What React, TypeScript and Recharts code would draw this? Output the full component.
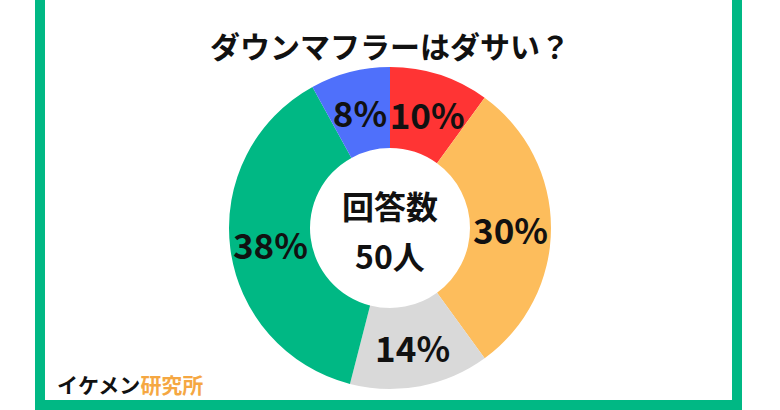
import React from 'react';
import { PieChart, Pie, Cell } from 'recharts';

const answers = ['ダサい', 'ややダサい', 'どちらでもない', 'あまりダサくない', 'ダサくない'];
const shares = [10, 30, 14, 38, 8];
const colors = ['#FF3434', '#FDBD5C', '#D9D9D9', '#00B884', '#4F70FB'];

const data = answers.map((name, i) => ({ name, value: shares[i] }));

const FONT = '"Noto Sans CJK JP", "Noto Sans", sans-serif';
const RADIAN = Math.PI / 180;

const renderLabel = (props: any) => {
  const { cx, cy, midAngle, innerRadius, outerRadius, value } = props;
  const r = (innerRadius + outerRadius) / 2;
  const x = cx + r * Math.cos(-midAngle * RADIAN);
  const y = cy + r * Math.sin(-midAngle * RADIAN);
  return (
    <text
      x={x}
      y={y}
      textAnchor="middle"
      dominantBaseline="central"
      fill="#111"
      fontSize={35}
      fontWeight={700}
      fontFamily={FONT}
    >
      {value}%
    </text>
  );
};

export default function App() {
  return (
    <div
      style={{
        position: 'absolute',
        left: 0,
        top: 0,
        width: 780,
        height: 410,
        background: '#fff',
        fontFamily: FONT,
        overflow: 'hidden',
      }}
    >
      <div
        style={{
          position: 'absolute',
          left: 35,
          top: -10,
          width: 687,
          height: 400,
          border: '10px solid #00B884',
        }}
      />
      <div
        style={{
          position: 'absolute',
          left: 0,
          width: 780,
          top: 26,
          textAlign: 'center',
          fontSize: 30,
          fontWeight: 700,
          lineHeight: '38px',
          color: '#111',
        }}
      >
        ダウンマフラーはダサい？
      </div>
      <div style={{ position: 'absolute', left: 0, top: 0 }}>
        <PieChart width={780} height={410} margin={{ top: 0, right: 0, bottom: 0, left: 0 }}>
          <Pie
            data={data}
            dataKey="value"
            cx={390}
            cy={228}
            innerRadius={80}
            outerRadius={161}
            startAngle={90}
            endAngle={-270}
            stroke="none"
            label={renderLabel}
            labelLine={false}
            isAnimationActive={false}
          >
            {data.map((d, i) => (
              <Cell key={d.name} fill={colors[i]} />
            ))}
          </Pie>
        </PieChart>
      </div>
      <div
        style={{
          position: 'absolute',
          left: 290,
          width: 200,
          top: 180,
          textAlign: 'center',
          fontSize: 32,
          fontWeight: 700,
          lineHeight: '50px',
          color: '#111',
        }}
      >
        回答数
        <br />
        50人
      </div>
      <div
        style={{
          position: 'absolute',
          left: 57,
          top: 371,
          fontSize: 21,
          fontWeight: 700,
          lineHeight: '26px',
          color: '#111',
        }}
      >
        イケメン<span style={{ color: '#F5A742' }}>研究所</span>
      </div>
    </div>
  );
}
